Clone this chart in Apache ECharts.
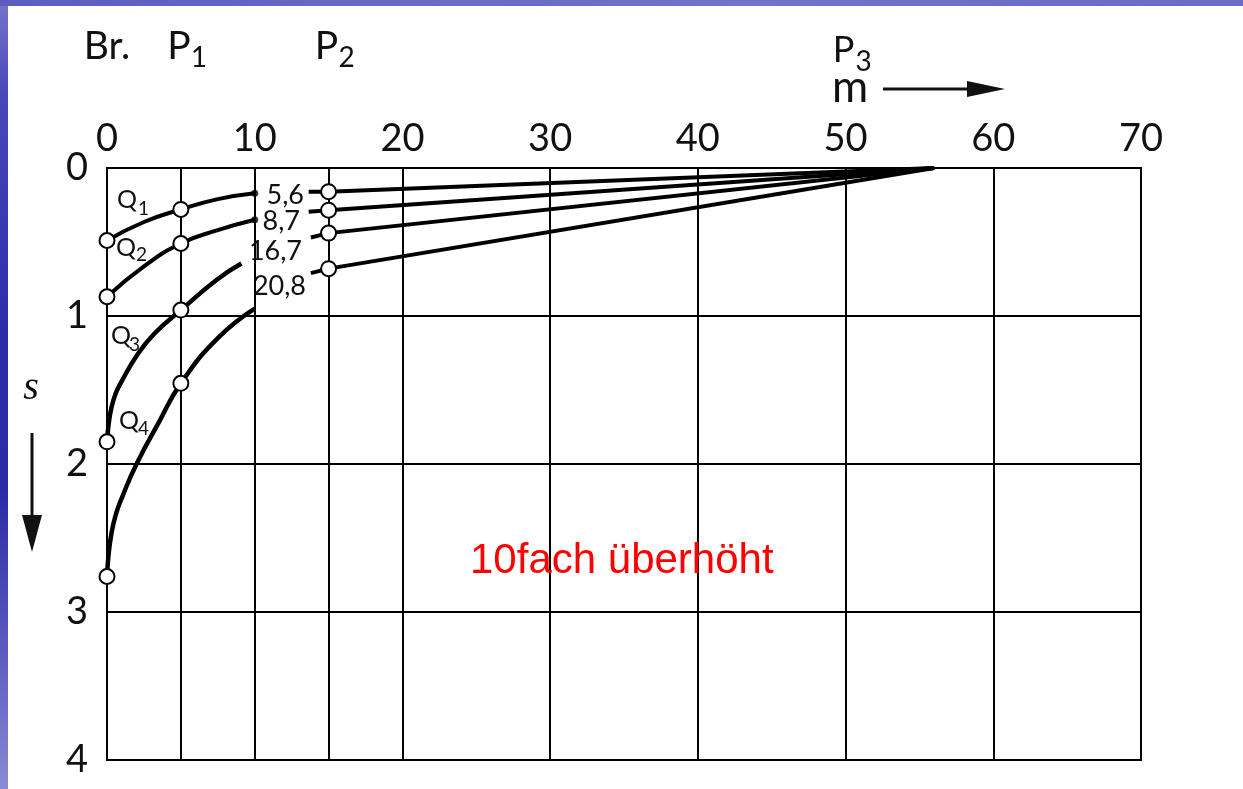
<!DOCTYPE html>
<html>
<head>
<meta charset="utf-8">
<script src="https://cdn.jsdelivr.net/npm/echarts@6/dist/echarts.min.js"></script>
<style>
html, body { margin: 0; padding: 0; background: #fff; }
#chart { position: absolute; left: 0; top: 0; width: 1243px; height: 789px; }
#edgeL { position: absolute; left: 0; top: 0; width: 8px; height: 789px; z-index: 2;
  background: linear-gradient(#7676cc 0%, #4848b8 12%, #2c2cab 42%, #2a2aa6 62%, #5a5abe 82%, #8a8ad6 100%); }
#edgeT { position: absolute; left: 0; top: 0; width: 1243px; height: 6px; z-index: 2;
  background: linear-gradient(90deg, #5d5dc0, #7373cc 60%, #6a6ac8); }
</style>
</head>
<body>
<div id="chart"></div>
<div id="edgeL"></div>
<div id="edgeT"></div>
<script>
// Distance from the well (m) and drawdown s (m), drawn 10x exaggerated
const xMin = 0, xMax = 70, xStep = 10;
const yMin = 0, yMax = 4, yStep = 1;

// Observation columns: well (Br.), P1, P2, P3
const stationNames = ['Br.', 'P', 'P', 'P'];
const stationSubs = ['', '1', '2', '3'];
const stationX = [0, 5, 15, 50];
const extraColumns = [5, 15];

// Pumping rates Q1..Q4
const qNames = ['1', '2', '3', '4'];
const qRates = ['5,6', '8,7', '16,7', '20,8'];

// Near-well drawdown curves (x in m, s in m)
const q1NearX = [0, 2.5, 5, 7.5, 10];
const q1NearS = [0.49, 0.365, 0.28, 0.21, 0.17];
const q2NearX = [0, 2.5, 5, 7.5, 10];
const q2NearS = [0.87, 0.665, 0.51, 0.42, 0.35];
const q3NearX = [0, 0.1, 0.3, 0.6, 1, 2, 3.2, 5, 7.5, 9.1];
const q3NearS = [1.85, 1.74, 1.62, 1.52, 1.44, 1.27, 1.12, 0.96, 0.75, 0.645];
const q4NearX = [0, 0.1, 0.3, 0.6, 1, 2, 3.5, 5, 7.5, 10];
const q4NearS = [2.76, 2.62, 2.47, 2.34, 2.23, 2.0, 1.72, 1.455, 1.15, 0.95];

// Measured points at Br., P1 and P2
const circleX = [0, 5, 15];
const q1Points = [0.49, 0.28, 0.16];
const q2Points = [0.87, 0.51, 0.285];
const q3Points = [1.85, 0.96, 0.44];
const q4Points = [2.76, 1.455, 0.68];

// End dots of the Q1 / Q2 near curves at x = 10
const endDotX = [10, 10];
const endDotS = [0.17, 0.35];

// Leader ticks from the rate labels to the P2 points
const tickStartX = [13.65, 13.65, 13.8, 13.8];
const tickStartS = [0.16, 0.295, 0.47, 0.71];

// Common point where the far straight lines reach s = 0
const meetX = 56, meetS = 0;

const zip = (xs, ys) => xs.map((x, i) => [x, ys[i]]);
const black = '#000';
const fontMain = 'Lato, "Noto Sans", sans-serif';

const nearSets = [[q1NearX, q1NearS], [q2NearX, q2NearS], [q3NearX, q3NearS], [q4NearX, q4NearS]];
const pointSets = [q1Points, q2Points, q3Points, q4Points];

const series = [];

// vertical lines for P1 and P2
series.push({
  type: 'line', data: [], silent: true,
  markLine: {
    silent: true, symbol: 'none', label: { show: false },
    lineStyle: { color: black, width: 2, type: 'solid' },
    data: extraColumns.map(v => ({ xAxis: v }))
  }
});

nearSets.forEach(([xs, ys], i) => {
  series.push({
    type: 'line', data: zip(xs, ys), smooth: 0.5,
    showSymbol: false, symbol: 'none', z: 3,
    lineStyle: { color: black, width: i >= 2 ? 4.5 : 4 }
  });
});

pointSets.forEach((pts, i) => {
  const p2 = pts[2];
  series.push({
    type: 'line', showSymbol: false, symbol: 'none', z: 3,
    data: [[tickStartX[i], tickStartS[i]], [circleX[2], p2], [meetX, meetS]],
    lineStyle: { color: black, width: 4 }
  });
});

series.push({
  type: 'scatter', z: 4, symbolSize: 7,
  itemStyle: { color: black },
  data: zip(endDotX, endDotS)
});

pointSets.forEach(pts => {
  series.push({
    type: 'scatter', z: 5, symbol: 'circle', symbolSize: 15,
    itemStyle: { color: '#fff', borderColor: black, borderWidth: 2, opacity: 1 },
    data: zip(circleX, pts)
  });
});

const chart = echarts.init(document.getElementById('chart'), null, { renderer: 'canvas' });

chart.setOption({
  animation: false,
  backgroundColor: 'transparent',
  grid: {
    left: 107, top: 168, right: 102, bottom: 29, containLabel: false,
    show: true, borderColor: black, borderWidth: 2, backgroundColor: 'transparent'
  },
  xAxis: {
    type: 'value', position: 'top', min: xMin, max: xMax, interval: xStep,
    axisLine: { show: true, lineStyle: { color: black, width: 2 } },
    axisTick: { show: false },
    axisLabel: { margin: 10, fontSize: 38, fontFamily: fontMain, color: '#111' },
    splitLine: { show: true, lineStyle: { color: black, width: 2 } }
  },
  yAxis: {
    type: 'value', inverse: true, min: yMin, max: yMax, interval: yStep,
    axisLine: { show: true, lineStyle: { color: black, width: 2 } },
    axisTick: { show: false },
    axisLabel: { margin: 19, fontSize: 38, fontFamily: fontMain, color: '#111', padding: [6, 0, 0, 0] },
    splitLine: { show: true, lineStyle: { color: black, width: 2 } }
  },
  series: series
});

// Text annotations placed relative to the axes
const px = (x, y) => chart.convertToPixel({ gridIndex: 0 }, [x, y]);
const graphics = [];
const txt = (x, y, text, size, opts = {}) => graphics.push({
  type: 'text', x: x, y: y, z: 20,
  style: Object.assign({
    text: text, fontSize: size, fontFamily: fontMain, fill: '#111',
    align: 'center', verticalAlign: 'middle'
  }, opts)
});

// station headers
stationX.forEach((sx, i) => {
  const cx = px(sx, 0)[0];
  const big = i === 3 ? 36 : 39;
  const cy = i === 3 ? 50 : 46;
  txt(cx - (i === 0 ? 0 : 2), cy, stationNames[i], big);
  if (stationSubs[i]) {
    txt(cx + 10, cy + 12, stationSubs[i], 28, { align: 'left' });
  }
});

// unit and direction labels
txt(850, 88, 'm', 44);
graphics.push({ type: 'line', z: 20, shape: { x1: 883, y1: 89, x2: 975, y2: 89 }, style: { stroke: '#111', lineWidth: 3 } });
graphics.push({ type: 'polygon', z: 20, shape: { points: [[967, 81], [1005, 89], [967, 97]] }, style: { fill: '#111' } });

txt(31, 388, 's', 40, { fontFamily: '"Liberation Serif", "DejaVu Serif", serif', fontStyle: 'italic' });
graphics.push({ type: 'line', z: 20, shape: { x1: 32, y1: 433, x2: 32, y2: 525 }, style: { stroke: '#111', lineWidth: 3 } });
graphics.push({ type: 'polygon', z: 20, shape: { points: [[22, 515], [32, 552], [42, 515]] }, style: { fill: '#111' } });

// curve names Q1..Q4
const qLabelPos = [[127, 200], [126, 248], [121, 336], [129, 421]];
const qSubOff = [[11, 9], [10, 7], [8, 9], [9, 8]];
qNames.forEach((n, i) => {
  const [x, y] = qLabelPos[i];
  txt(x, y, 'Q', 25);
  txt(x + qSubOff[i][0], y + qSubOff[i][1], n, 19, { align: 'left' });
});

// pumping rate labels
const rateRight = [304, 300, 302, 306];
const rateMid = [195, 221, 251, 286];
qRates.forEach((r, i) => {
  txt(rateRight[i], rateMid[i], r, 27, { align: 'right' });
});

// exaggeration note
txt(470, 561, '10fach überhöht', 42, { align: 'left', fill: '#ff0000', fontFamily: '"Liberation Sans", Arial, sans-serif' });

chart.setOption({ graphic: graphics });
</script>
</body>
</html>
